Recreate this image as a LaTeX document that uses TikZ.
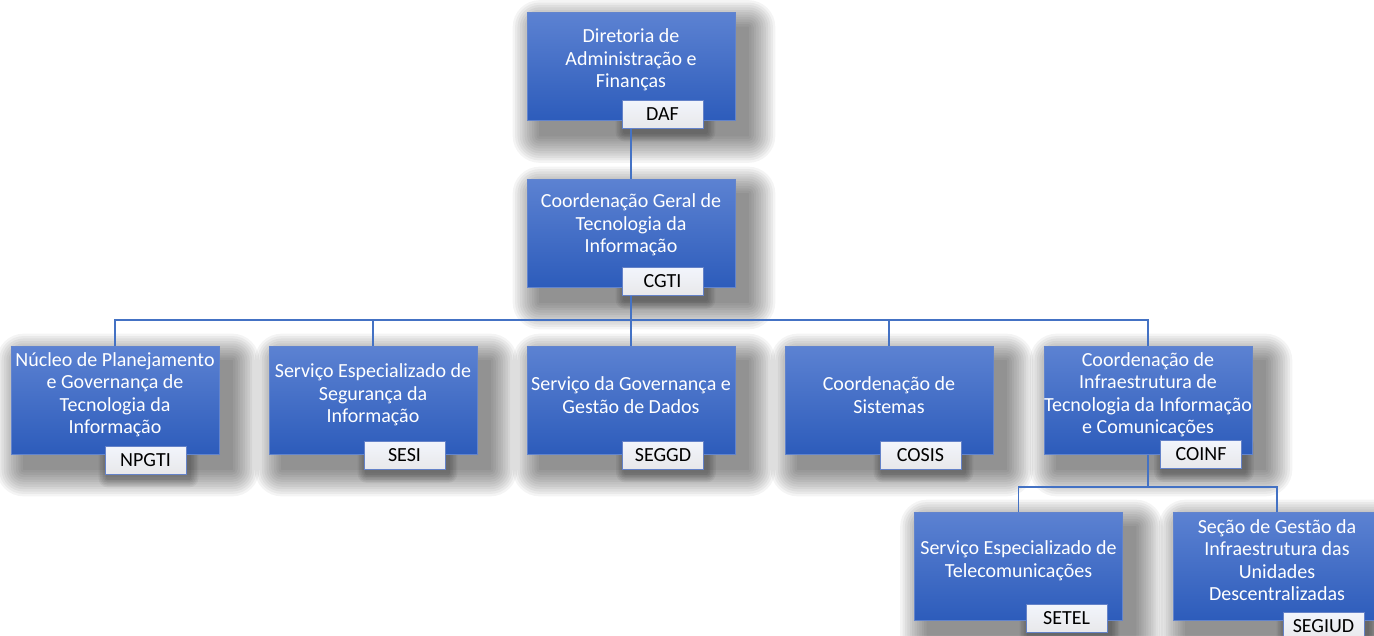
\documentclass[tikz,border=0pt]{standalone}
\usepackage{fontspec}
\setmainfont{Carlito}
\definecolor{boxtop}{RGB}{92,130,210}
\definecolor{boxbot}{RGB}{45,92,187}
\definecolor{boxedge}{RGB}{98,132,205}
\definecolor{tagtop}{RGB}{242,245,252}
\definecolor{tagbot}{RGB}{232,232,234}
\definecolor{tagedge}{RGB}{100,130,200}
\definecolor{connc}{RGB}{68,114,196}
\pgfdeclarelayer{bglayer}
\pgfdeclarelayer{shadowlayer}
\pgfdeclarelayer{connlayer}
\pgfsetlayers{bglayer,shadowlayer,connlayer,main}
\tikzset{
  unitbox/.style={rectangle, minimum width=208pt, minimum height=108pt, inner sep=0pt,
    top color=boxtop, bottom color=boxbot, draw=boxedge, line width=0.7pt},
  unittext/.style={align=center, text=white, inner sep=0pt,
    font=\fontsize{20}{22.5}\selectfont},
  tagbox/.style={rectangle, minimum width=81pt, minimum height=28pt, inner sep=0pt,
    top color=tagtop, bottom color=tagbot, draw=tagedge, line width=0.7pt,
    text=black, font=\fontsize{20}{22.5}\selectfont, text height=12.9pt, text depth=0pt},
  conn/.style={draw=connc, line width=1.5pt},
  shadowstep/.style={fill=black, opacity=#1}
}
\begin{document}
\begin{tikzpicture}[x=1pt, y=-1pt]
\useasboundingbox (0,0) rectangle (1374,635);
\begin{pgfonlayer}{bglayer}
\fill[white] (0,0) rectangle (1374,635);
\end{pgfonlayer}

% unit boxes
\node[unitbox] (daf)    at (631,66.5) {};
\node[unitbox] (cgti)   at (631,233) {};
\node[unitbox] (npgti)  at (115,400) {};
\node[unitbox] (sesi)   at (373,400) {};
\node[unitbox] (seggd)  at (631,400) {};
\node[unitbox] (cosis)  at (889,400) {};
\node[unitbox] (coinf)  at (1148,400) {};
\node[unitbox] (setel)  at (1018.5,566) {};
\node[unitbox] (segiud) at (1277,566) {};

% texts
\node[unittext] (daf-t)    at (631,60) {Diretoria de\\Administração e\\Finanças};
\node[unittext] (cgti-t)   at (631,225) {Coordenação Geral de\\Tecnologia da\\Informação};
\node[unittext] (npgti-t)  at (115,394.5) {Núcleo de Planejamento\\e Governança de\\Tecnologia da\\Informação};
\node[unittext] (sesi-t)   at (373,395) {Serviço Especializado de\\Segurança da\\Informação};
\node[unittext] (seggd-t)  at (631,395) {Serviço da Governança e\\Gestão de Dados};
\node[unittext] (cosis-t)  at (889,395) {Coordenação de\\Sistemas};
\node[unittext] (coinf-t)  at (1148,394.5) {Coordenação de\\Infraestrutura de\\Tecnologia da Informação\\e Comunicações};
\node[unittext] (setel-t)  at (1018.5,560.5) {Serviço Especializado de\\Telecomunicações};
\node[unittext] (segiud-t) at (1277,560) {Seção de Gestão da\\Infraestrutura das\\Unidades\\Descentralizadas};

% tags
\node[tagbox] (daf-g)    at (662.5,114) {DAF};
\node[tagbox] (cgti-g)   at (662.5,281.5) {CGTI};
\node[tagbox] (npgti-g)  at (145.5,460) {NPGTI};
\node[tagbox] (sesi-g)   at (404.5,455.5) {SESI};
\node[tagbox] (seggd-g)  at (663,455) {SEGGD};
\node[tagbox] (cosis-g)  at (920.5,455) {COSIS};
\node[tagbox] (coinf-g)  at (1201,454.5) {COINF};
\node[tagbox] (setel-g)  at (1066.5,618.5) {SETEL};
\node[tagbox] (segiud-g) at (1323.5,626) {SEGIUD};

% soft shadows (stacked translucent rectangles)
\begin{pgfonlayer}{shadowlayer}
\foreach \n in {daf,cgti,npgti,sesi,seggd,cosis,coinf,setel,segiud}{
  \foreach \i in {0,...,11}{
    \pgfmathsetmacro\e{27-2.4*\i}
    \fill[shadowstep=0.045, rounded corners=\e pt]
      ([shift={(13-\e,15-\e)}]\n.north west) rectangle ([shift={(13+\e,15+\e)}]\n.south east);
  }
  \foreach \i in {0,...,5}{
    \pgfmathsetmacro\e{9-1.5*\i}
    \fill[shadowstep=0.05, rounded corners=\e pt]
      ([shift={(3-\e,4-\e)}]\n-g.north west) rectangle ([shift={(3+\e,4+\e)}]\n-g.south east);
  }
}
\end{pgfonlayer}

% connectors
\begin{pgfonlayer}{connlayer}
\coordinate (bus) at (631,320);
\coordinate (bus2) at (1148,487);
\draw[conn] (daf.south) -- (cgti.north);
\draw[conn] (cgti.south) -- (bus);
\draw[conn] (bus) -| (npgti.north);
\draw[conn] (bus) -| (sesi.north);
\draw[conn] (bus) -- (seggd.north);
\draw[conn] (bus) -| (cosis.north);
\draw[conn] (bus) -| (coinf.north);
\draw[conn] (coinf.south) -- (bus2);
\draw[conn] (bus2) -| (setel.north);
\draw[conn] (bus2) -| (segiud.north);
\end{pgfonlayer}
\end{tikzpicture}
\end{document}
